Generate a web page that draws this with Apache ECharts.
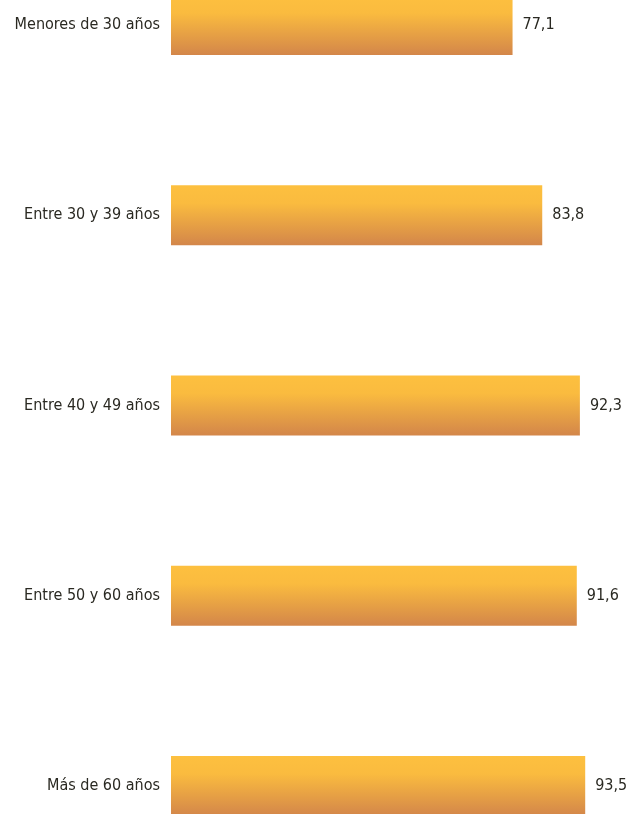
<!DOCTYPE html>
<html>
<head>
<meta charset="utf-8">
<script src="https://cdn.jsdelivr.net/npm/echarts@6/dist/echarts.min.js"></script>
<style>
html,body{margin:0;padding:0;background:#fff;}
#chart{width:632px;height:814px;}
</style>
</head>
<body>
<div id="chart"></div>
<script>
const categories = ["Menores de 30 años", "Entre 30 y 39 años", "Entre 40 y 49 años", "Entre 50 y 60 años", "Más de 60 años"];
const values = [77.1, 83.8, 92.3, 91.6, 93.5];

const FONT = '"DejaVu Sans Condensed", "Liberation Sans Narrow", sans-serif';
const chart = echarts.init(document.getElementById('chart'), null, {renderer: 'canvas'});
chart.setOption({
  animation: false,
  grid: {left: 171, right: 18, top: -70, height: 951, containLabel: false, outerBoundsMode: 'none'},
  xAxis: {type: 'value', min: 0, max: 100, show: false},
  yAxis: {
    type: 'category', data: categories, inverse: true,
    axisLine: {show: false}, axisTick: {show: false},
    axisLabel: {color: '#2a2922', fontFamily: FONT, fontSize: 16, margin: 11}
  },
  series: [{
    type: 'bar', data: values, barWidth: 60,
    itemStyle: {
      color: new echarts.graphic.LinearGradient(0, 0, 0, 1, [
        {offset: 0, color: '#FDC03F'},
        {offset: 0.3, color: '#FABB3F'},
        {offset: 1, color: '#D3864A'}
      ])
    },
    label: {
      show: true, position: 'right', distance: 10,
      color: '#2a2922', fontFamily: FONT, fontSize: 16,
      formatter: p => String(p.value).replace('.', ',')
    }
  }]
});
</script>
</body>
</html>
